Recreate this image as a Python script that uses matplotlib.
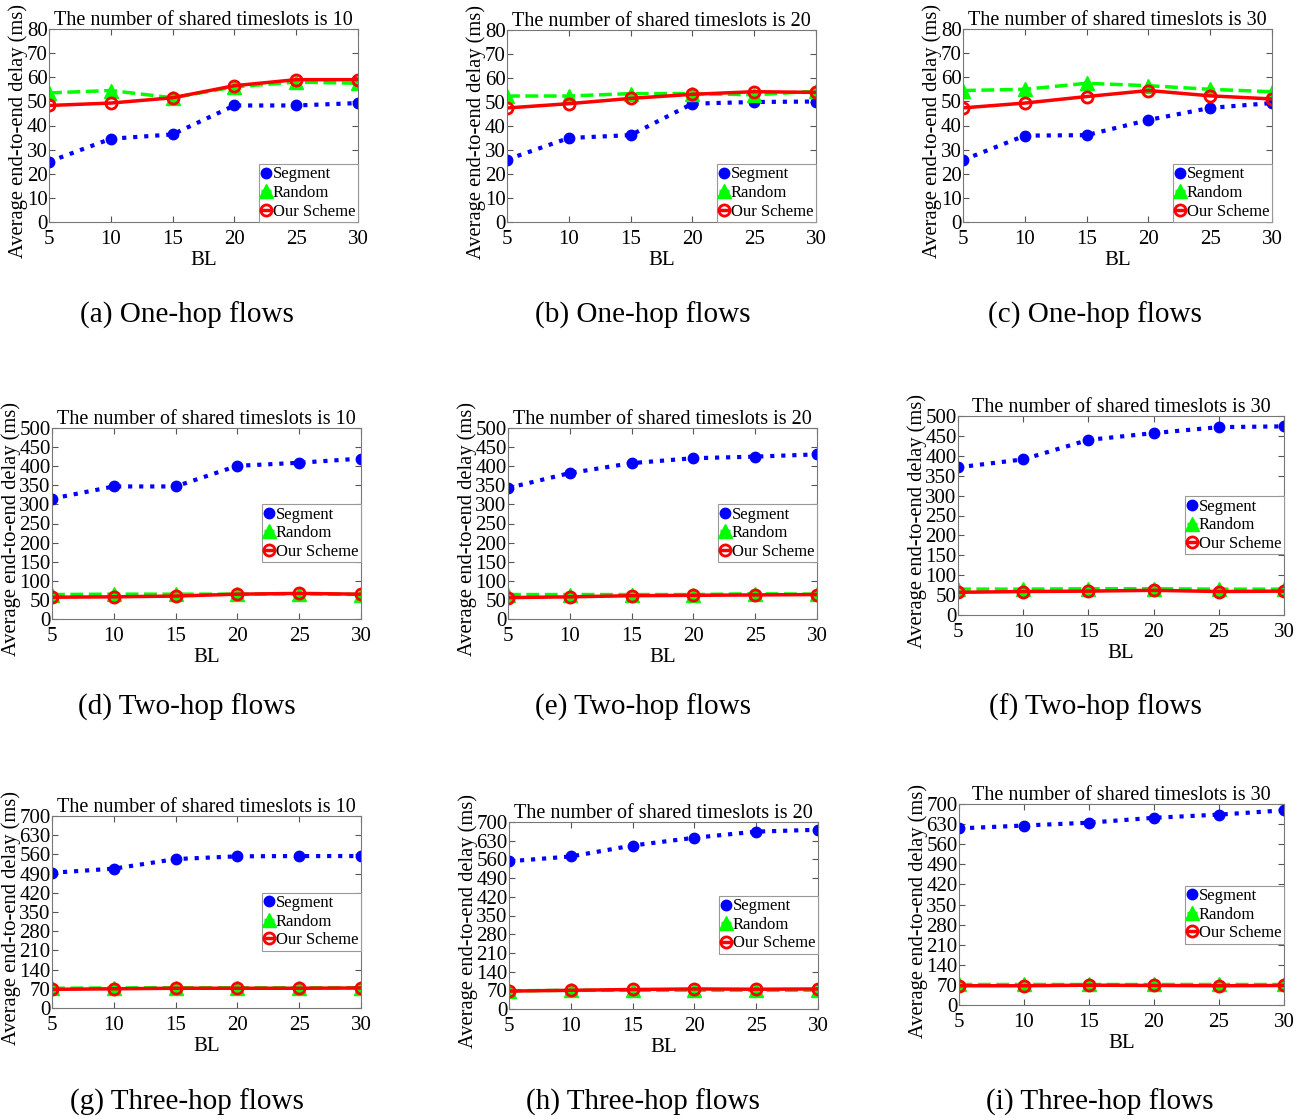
import matplotlib.pyplot as plt

bl = [5, 10, 15, 20, 25, 30]

# one-hop flows, shared timeslots 10 / 20 / 30
seg_a = [25, 34.5, 36.3, 48.3, 48.3, 49.3]
rnd_a = [53.5, 54.5, 51.5, 56, 58, 57.5]
our_a = [48.3, 49.3, 51.5, 56.5, 59, 59]
seg_b = [26, 35, 36.2, 49.3, 50, 50.2]
rnd_b = [52.5, 52.5, 53.5, 53.5, 53, 54.5]
our_b = [47.5, 49.3, 51.5, 53.2, 54.3, 54]
seg_c = [25.7, 35.8, 36, 42.3, 47.3, 49.3]
rnd_c = [54.5, 55, 57.5, 56.5, 55, 54]
our_c = [47.3, 49.3, 52, 54.5, 52.3, 51]

# two-hop flows
seg_d = [315, 347, 347, 401, 409, 420]
rnd_d = [64, 65, 65, 65, 66, 64]
our_d = [57, 58, 60, 65, 67, 65]
seg_e = [343, 382, 408, 421, 425, 431]
rnd_e = [64, 64, 64, 64, 66, 65]
our_e = [56, 58, 61, 62, 63, 64]
seg_f = [371, 391, 440, 457, 472, 474]
rnd_f = [65, 65, 66, 66, 65, 65]
our_f = [57, 59, 60, 62, 59, 60]

# three-hop flows
seg_g = [493, 508, 543, 553, 554, 554]
rnd_g = [72, 73, 74, 74, 74, 74]
our_g = [68, 70, 72, 72, 72, 73]
seg_h = [553, 571, 612, 641, 664, 671]
rnd_h = [68, 70, 70, 70, 70, 70]
our_h = [67, 70, 73, 75, 74, 75]
seg_i = [615, 625, 635, 652, 663, 678]
rnd_i = [72, 72, 72, 72, 72, 72]
our_i = [67, 67, 69, 68, 67, 68]

slots = [10, 20, 30]
captions = ["(a) One-hop flows", "(b) One-hop flows", "(c) One-hop flows",
            "(d) Two-hop flows", "(e) Two-hop flows", "(f) Two-hop flows",
            "(g) Three-hop flows", "(h) Three-hop flows", "(i) Three-hop flows"]

panels = [(seg_a, rnd_a, our_a), (seg_b, rnd_b, our_b), (seg_c, rnd_c, our_c),
          (seg_d, rnd_d, our_d), (seg_e, rnd_e, our_e), (seg_f, rnd_f, our_f),
          (seg_g, rnd_g, our_g), (seg_h, rnd_h, our_h), (seg_i, rnd_i, our_i)]

# axes boxes in pixels: left, right, top, bottom
boxes = [(49, 358, 29, 222), (507, 816, 30, 222), (963, 1272, 29, 222),
         (52, 361, 428, 619), (508, 817, 428, 619), (958, 1284, 416, 615),
         (52, 361, 816, 1008), (509, 818, 822, 1009), (959, 1284, 804, 1005)]
cap_y = [315, 315, 315, 707, 707, 707, 1102, 1102, 1102]
cap_x = [187, 643, 1095, 187, 643, 1095, 187, 643, 1100]

W, H = 1305, 1120
plt.rcParams['font.family'] = ['Liberation Serif', 'DejaVu Serif']

fig = plt.figure(figsize=(W / 100, H / 100), dpi=100)

for k in range(9):
    l, r, t, b = boxes[k]
    ax = fig.add_axes([l / W, 1 - b / H, (r - l) / W, (b - t) / H])
    seg, rnd, our = panels[k]
    ax.plot(bl, seg, ':', color='blue', lw=3, marker='o', ms=7.5,
            mfc='blue', mec='blue', label='Segment')
    ax.plot(bl, rnd, '--', color=(0, 1, 0), lw=2.5, marker='^', ms=10,
            mfc=(0, 1, 0), mec=(0, 1, 0), label='Random')
    ax.plot(bl, our, '-', color='red', lw=2.5, marker='o', ms=8,
            mfc='none', mec='red', mew=2, label='Our Scheme')

    row = k // 3
    if row == 0:
        ax.set_ylim(0, 80)
        ax.set_yticks(range(0, 81, 10))
        leg_loc, anchor = 'lower right', (1, 0)
    elif row == 1:
        ax.set_ylim(0, 500)
        ax.set_yticks(range(0, 501, 50))
        leg_loc, anchor = 'center right', (1, 0.45)
    else:
        ax.set_ylim(0, 700)
        ax.set_yticks(range(0, 701, 70))
        leg_loc, anchor = 'center right', (1, 0.45)
    ax.set_xlim(5, 30)
    ax.set_xticks(bl)

    ax.tick_params(direction='in', top=True, right=True, labelsize=15,
                   length=4, color='#555555')
    ax.tick_params(axis='x', pad=6)
    ax.tick_params(axis='y', pad=1)
    for s in ax.spines.values():
        s.set_color('#777777')
        s.set_linewidth(0.8)

    ax.set_title("The number of shared timeslots is %d" % slots[k % 3],
                 fontsize=14.5, pad=3)
    ax.set_xlabel("BL", fontsize=15, labelpad=1)
    ax.set_ylabel("Average end-to-end delay (ms)", fontsize=14.8, labelpad=-1)
    ax.yaxis.label.set_y(0.47)

    leg = ax.legend(loc=leg_loc, bbox_to_anchor=anchor, fontsize=12,
                    handlelength=0.6, handletextpad=0.1, borderpad=0.15,
                    labelspacing=0.15, borderaxespad=0, fancybox=False,
                    framealpha=1)
    leg.get_frame().set_edgecolor('#999999')
    leg.get_frame().set_linewidth(0.8)

    fig.text(cap_x[k] / W, 1 - cap_y[k] / H, captions[k], fontsize=21,
             ha='center', va='center')

fig.savefig("out.png", dpi=100)
